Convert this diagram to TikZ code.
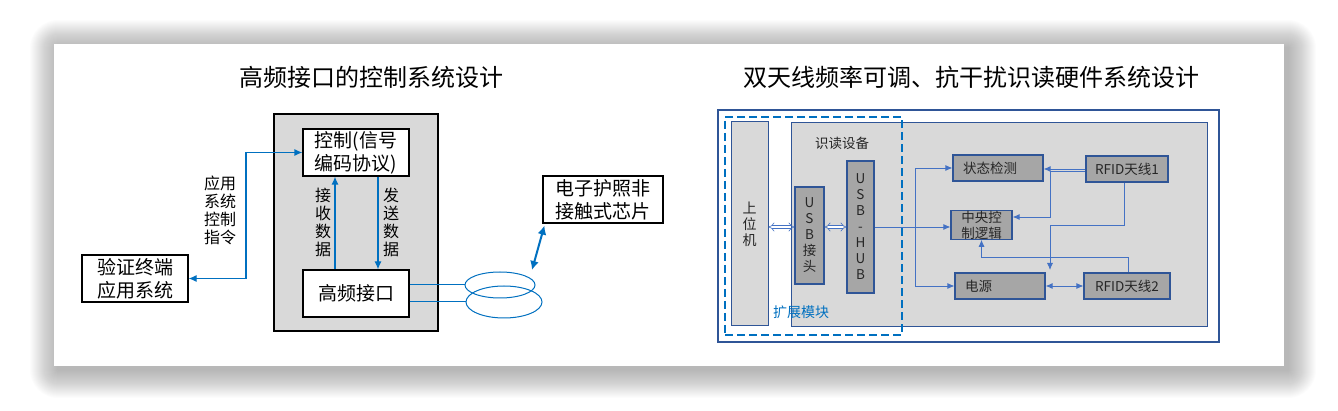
\documentclass[tikz,border=0pt]{standalone}
\usepackage{fontspec}
\usepackage{xcolor}
\usepackage{tikz}
\usetikzlibrary{shapes.geometric,arrows.meta}
\setmainfont{Noto Sans CJK SC}
\definecolor{C0070C0}{HTML}{0070C0}
\definecolor{C2F5597}{HTML}{2F5597}
\definecolor{C4472C4}{HTML}{4472C4}
\definecolor{CD9D9D9}{HTML}{D9D9D9}
\definecolor{CA6A6A6}{HTML}{A6A6A6}
\definecolor{C262626}{HTML}{262626}
\definecolor{CFFFFFF}{HTML}{FFFFFF}

\begin{document}
\begin{tikzpicture}[inner sep=0pt,
ttl/.style={align=center,font=\fontsize{24}{28}\selectfont},
wbox/.style={draw=black,fill=CFFFFFF,line width=1.2pt,align=center,font=\fontsize{19}{23}\selectfont},
vtxt/.style={align=center,font=\fontsize{16}{18}\selectfont},
bline/.style={draw=C0070C0,line width=1.2pt},
btip/.style={bline,{Latex[length=8pt,width=7pt]}-{Latex[length=8pt,width=7pt]}},
gbox/.style={draw=C2F5597,fill=CD9D9D9,line width=1pt},
dbox/.style={draw=C2F5597,fill=CA6A6A6,line width=1.2pt,text=C262626,align=center,font=\fontsize{13.5}{16}\selectfont},
lnk/.style={draw=C4472C4,line width=0.8pt,-{Latex[length=7pt,width=6pt]}},
hol/.style={draw=C4472C4,double=CFFFFFF,double distance=2.5pt,line width=0.6pt,{Implies}-{Implies}}]
\useasboundingbox (0pt,0pt) rectangle (1338pt,-411pt);
\foreach \d in {1,...,28}
  \fill [black,fill opacity=0.013,rounded corners=\d pt] ({58pt-\d pt},{-48pt+\d pt}) rectangle ({1288pt+\d pt},{-370pt-\d pt});
\node (bg) [minimum height=322pt, minimum width=1230pt,at={(669pt,-205pt)}, fill=CFFFFFF] {};

\node (n0) [ttl,at={(371pt,-77pt)}] {高频接口的控制系统设计};
\node (n1) [minimum height=217pt, minimum width=164pt,at={(356pt,-222.5pt)}, draw=black, fill=CD9D9D9, line width=1.2pt] {};
\node (n2) [wbox,minimum height=47pt, minimum width=106pt,at={(356pt,-152.5pt)}] {控制(信号\\编码协议)};
\node (n3) [wbox,minimum height=47pt, minimum width=106pt,at={(356pt,-293.5pt)}] {高频接口};
\node (n4) [wbox,minimum height=47pt, minimum width=106pt,at={(135pt,-278.5pt)}] {验证终端\\应用系统};
\node (n5) [wbox,minimum height=47pt, minimum width=120pt,at={(603pt,-199.5pt)}] {电子护照非\\接触式芯片};
\node (n6) [minimum height=26pt, minimum width=70pt,at={(500pt,-285pt)}, shape=ellipse, draw=C0070C0, line width=1pt] {};
\node (n7) [minimum height=32pt, minimum width=76pt,at={(504pt,-302pt)}, shape=ellipse, draw=C0070C0, line width=1pt] {};
\node (l0) [vtxt,at={(323pt,-222pt)}] {接\\收\\数\\据};
\node (l1) [vtxt,at={(391pt,-222pt)}] {发\\送\\数\\据};
\node (l2) [vtxt,at={(220pt,-210pt)}] {应用\\系统\\控制\\指令};
\coordinate (c0) at (246pt,0pt);
\coordinate (c1) at (532pt,-270pt);

\path [btip](n4.east)--(n4.east -| c0)|-(n2.west);
\path [bline,-{Latex[length=8pt,width=7pt]}]([xshift=-21pt]n3.north)--([xshift=-21pt]n2.south);
\path [bline,-{Latex[length=8pt,width=7pt]}]([xshift=22pt]n2.south)--([xshift=22pt]n3.north);
\path [bline,line width=1pt]([yshift=8.5pt]n3.east)--(n6.west);
\path [bline,line width=1pt]([yshift=-8.5pt]n3.east)--(n7.west);
\path [bline,line width=2pt,{Latex[length=9pt,width=9pt]}-{Latex[length=9pt,width=9pt]}]([xshift=2pt,yshift=-2pt]n5.south west)--(c1);

\node (n8) [ttl,at={(971pt,-77pt)}] {双天线频率可调、抗干扰识读硬件系统设计};
\node (n9) [minimum height=232pt, minimum width=501pt,at={(968.5pt,-226pt)}, draw=C2F5597, line width=1.2pt] {};
\node (n10) [gbox,minimum height=204pt, minimum width=416pt,at={(999pt,-225pt)}] {};
\node (n11) [gbox,minimum height=204pt, minimum width=37pt,at={(749.5pt,-224pt)},text=C262626,align=center,font=\fontsize{14}{16}\selectfont] {上\\位\\机};
\node (n12) [dbox,minimum height=97pt, minimum width=29pt,at={(809.5pt,-235.5pt)}] {U\\S\\B\\接\\头};
\node (n13) [dbox,minimum height=132pt, minimum width=27pt,at={(860.5pt,-227pt)}] {U\\S\\B\\-\\H\\U\\B};
\node (l3) [at={(842pt,-143pt)},text=C262626,font=\fontsize{13.5}{16}\selectfont] {识读设备};
\node (l4) [at={(801pt,-312pt)},text=C0070C0,font=\fontsize{14}{16}\selectfont] {扩展模块};

\node (n15) [dbox,minimum height=26pt, minimum width=90pt,at={(998pt,-168pt)},text width=70pt,align=left] {状态检测};
\node (n16) [dbox,minimum height=26pt, minimum width=61pt,at={(981.5pt,-225pt)}] {中央控\\制逻辑};
\node (n17) [dbox,minimum height=26pt, minimum width=90pt,at={(1000pt,-286pt)},text width=70pt,align=left] {电源};
\node (n18) [dbox,minimum height=26pt, minimum width=82pt,at={(1127pt,-169pt)}] {RFID天线1};
\node (n19) [dbox,minimum height=26pt, minimum width=86pt,at={(1127pt,-286pt)}] {RFID天线2};
\coordinate (c2) at (915pt,-228pt);
\coordinate (c3) at (1050pt,-217pt);
\coordinate (c4) at (1050pt,-225pt);
\coordinate (c5) at (1050pt,-270pt);

\path [hol](n11.east |- n13)--(n12.west |- n13);
\path [hol](n12.east |- n13)--(n13.west);
\path [lnk](n13.east)--(n16.west |- n13);
\path [lnk,{Latex[length=7pt,width=6pt]}-{Latex[length=7pt,width=6pt]}](n15.west)-|(c2)|-(n17.west);
\path [lnk](n18.west)--(n15.east |- n18.west);
\path [lnk]([yshift=-2pt]n18.west)-|(c3)--([yshift=8pt]n16.east);
\path [lnk]([xshift=-3pt]n18.south)|-(c4)--(c5);
\path [lnk,{Latex[length=7pt,width=6pt]}-{Latex[length=7pt,width=6pt]}](n17.east)--(n19.west);
\path [lnk]([xshift=1pt]n19.north)|-([yshift=-18pt]n16.south)--(n16.south);

\node (n14) [minimum height=218pt, minimum width=177pt,at={(813.5pt,-226pt)}, draw=C0070C0, line width=2.5pt, dash pattern=on 8pt off 4pt] {};
\end{tikzpicture}
\end{document}
